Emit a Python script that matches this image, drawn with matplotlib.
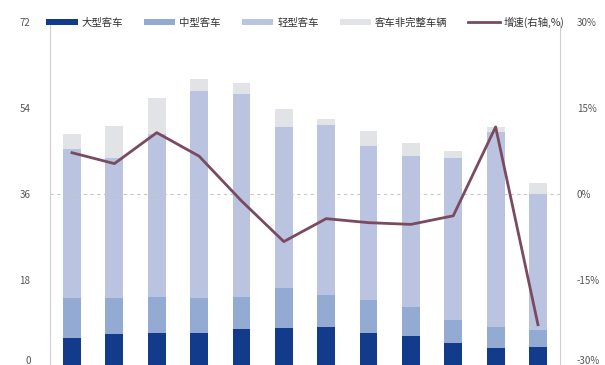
import matplotlib
matplotlib.use("Agg")
import matplotlib.pyplot as plt
import numpy as np

plt.rcParams['font.family'] = ['Noto Sans CJK SC', 'DejaVu Sans']

# Annual bus sales by segment (10k units) and YoY growth (%)
periods = ["2008", "2009", "2010", "2011", "2012", "2013",
           "2014", "2015", "2016", "2017", "2018", "2019"]
large_bus = [5.8, 6.7, 6.9, 6.9, 7.7, 7.9, 8.1, 6.9, 6.3, 4.8, 3.8, 4.0]
medium_bus = [8.4, 7.5, 7.5, 7.3, 6.7, 8.4, 6.7, 6.9, 6.0, 4.8, 4.3, 3.5]
light_bus = [31.3, 29.3, 34.1, 43.3, 42.6, 33.7, 35.7, 32.2, 31.7, 33.9, 40.9, 28.5]
incomplete_bus = [3.0, 6.7, 7.5, 2.5, 2.2, 3.7, 1.2, 3.2, 2.7, 1.5, 1.0, 2.3]
growth = [7.2, 5.3, 10.7, 6.6, -1.2, -8.3, -4.3, -5.0, -5.3, -3.8, 11.7, -22.8]

left_ticks = [0, 18, 36, 54, 72]
right_ticks = [-30, -15, 0, 15, 30]

fig = plt.figure(figsize=(6.05, 3.65), dpi=100)
ax = fig.add_axes([50 / 605, -1 / 365, 510 / 605, 344 / 365])

x = np.arange(len(periods))
w = 0.42
c_large = "#123b8c"
c_medium = "#93abd2"
c_light = "#bac3df"
c_incomplete = "#e2e3e6"
c_line = "#7a4a60"

b0 = np.zeros(len(x))
ax.bar(x, large_bus, w, bottom=b0, color=c_large, label="大型客车", zorder=2)
b1 = b0 + np.array(large_bus)
ax.bar(x, medium_bus, w, bottom=b1, color=c_medium, label="中型客车", zorder=2)
b2 = b1 + np.array(medium_bus)
ax.bar(x, light_bus, w, bottom=b2, color=c_light, label="轻型客车", zorder=2)
b3 = b2 + np.array(light_bus)
ax.bar(x, incomplete_bus, w, bottom=b3, color=c_incomplete, label="客车非完整车辆", zorder=2)

ax.set_ylim(0, 72)
ax.set_yticks(left_ticks)
ax.set_xlim(-0.52, len(x) - 0.48)
ax.set_xticks([])

ax2 = ax.twinx()
ax2.plot(x, growth, color=c_line, lw=2.0, label="增速(右轴,%)", zorder=3)
ax2.set_ylim(-30, 30)
ax2.set_yticks(right_ticks)
ax2.set_yticklabels([f"{t}%" for t in right_ticks])
ax2.axhline(0, color="#c8c8c8", lw=0.8, ls=(0, (3, 3)), zorder=1)

for a in (ax, ax2):
    for s in ("top", "bottom"):
        a.spines[s].set_visible(False)
    a.spines["left"].set_color("#cfcfcf")
    a.spines["right"].set_color("#cfcfcf")
    a.tick_params(axis="y", length=0, labelsize=7, colors="#555555", pad=14)
ax.spines["right"].set_visible(False)
ax2.spines["left"].set_visible(False)
ax2.tick_params(axis="y", pad=12)

# keep the lowest tick labels inside the canvas
ax.get_yticklabels()[0].set_va("bottom")
ax2.get_yticklabels()[0].set_va("bottom")

h1, l1 = ax.get_legend_handles_labels()
h2, l2 = ax2.get_legend_handles_labels()
fig.legend(h1 + h2, l1 + l2, loc="center", bbox_to_anchor=(0.505, 1 - 22 / 365),
           ncol=5, frameon=False, fontsize=7.5, handlelength=3.0, handleheight=0.45,
           columnspacing=2.0, handletextpad=0.4, labelcolor="#333333")

fig.savefig("out.png", dpi=100)
